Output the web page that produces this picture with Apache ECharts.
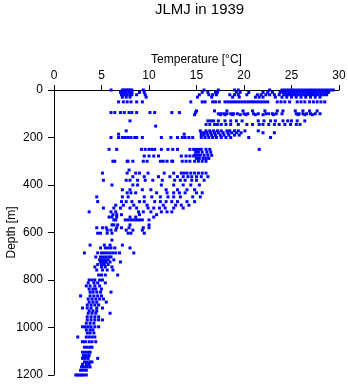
<!DOCTYPE html>
<html>
<head>
<meta charset="utf-8">
<script src="https://cdn.jsdelivr.net/npm/echarts@6/dist/echarts.min.js"></script>
<style>
html, body { margin: 0; padding: 0; background: #fff; }
#chart { width: 348px; height: 384px; }
</style>
</head>
<body>
<div id="chart"></div>
<script>
// depth levels [m] and the temperatures [°C] read at each one
var depths = [0, 10, 20, 30, 50, 88, 95, 100, 104, 130, 145, 152, 172, 180, 186, 190, 200, 250, 262, 275, 278, 288, 300, 337, 350, 365, 380, 400, 420, 433, 450, 470, 485, 497, 513, 525, 535, 547, 568, 580, 590, 603, 632, 653, 665, 686, 703, 715, 724, 735, 745, 758, 779, 800, 812, 825, 838, 851, 867, 880, 893, 905, 918, 930, 940, 955, 968, 982, 997, 1010, 1023, 1040, 1060, 1083, 1104, 1118, 1130, 1145, 1155, 1166, 1180, 1200]

var temps = [
	[6.0, 7.2, 7.4, 7.6, 7.8, 8.0, 8.2, 9.4, 15.8, 17.3, 19.0, 19.4, 22.7, 24.0, 24.3, 24.6, 24.9, 25.2, 25.5, 25.8, 26.1, 26.4, 26.7, 27.0, 27.3, 27.6, 27.9, 28.2, 28.5, 28.8, 29.1, 29.4],
	[7.0, 7.3, 7.6, 7.9, 8.2, 9.0, 9.5, 15.6, 16.2, 17.0, 17.2, 19.2, 19.6, 20.5, 22.0, 22.5, 23.0, 23.8, 24.1, 24.4, 24.7, 25.0, 25.3, 25.6, 25.9, 26.2, 26.5, 26.8, 27.1, 27.4, 27.7, 28.0, 28.3, 28.6, 28.9],
	[7.1, 7.4, 7.7, 8.0, 8.2, 8.7, 9.6, 15.3, 16.3, 16.7, 17.1, 18.5, 19.0, 19.4, 20.3, 21.4, 21.8, 22.3, 22.7, 23.2, 23.7, 24.2, 24.5, 24.8, 25.1, 25.4, 25.7, 26.0, 26.3, 26.6, 26.9, 27.2, 27.5, 27.8, 28.1, 28.4, 28.7],
	[7.2, 7.6, 8.0, 9.7, 15.1, 16.6, 18.8, 19.5, 21.2, 21.6, 22.0, 23.3, 24.0, 24.5, 25.0, 25.5, 26.0, 26.5, 27.0, 27.5, 28.0],
	[6.8, 7.3, 7.7, 8.1, 8.7, 9.3, 14.4, 15.6, 15.9, 16.7, 17.0, 17.4, 18.0, 18.3, 18.6, 18.9, 19.2, 19.5, 19.8, 20.1, 20.4, 20.7, 21.0, 21.3, 21.6, 21.9, 22.2, 22.5, 23.5, 23.9, 24.3, 24.8, 25.6, 26.0, 26.4, 26.9, 27.3, 27.7, 28.1, 28.5],
	[15.0, 16.9, 18.2, 19.9, 20.9, 22.2, 23.5, 24.1, 25.4, 26.2, 26.9, 27.7],
	[6.0, 6.4, 7.0, 7.4, 7.9, 8.2, 8.7, 10.1, 10.6, 12.4, 13.2, 14.9],
	[17.3, 17.6, 17.9, 18.2, 18.6, 18.9, 19.3, 20.0, 20.4, 21.0, 21.5, 22.3, 22.6, 23.0, 23.4, 24.0, 25.5, 25.8, 26.2, 26.6, 27.0, 27.5, 28.0],
	[14.8, 17.5, 18.0, 18.8, 19.6, 20.2, 21.2, 22.0, 23.1, 25.7, 26.4, 27.2],
	[8.0, 16.2, 16.5, 16.8, 17.3, 18.0, 18.6, 19.2, 19.8, 21.5, 22.1, 22.8, 23.3, 24.1, 24.6, 25.0, 25.6, 26.4],
	[16.0, 16.4, 16.9, 17.2, 17.6, 18.1, 18.6, 19.4, 20.3, 20.9, 21.6, 22.0, 22.6, 23.2, 23.7, 24.3, 24.9, 25.5, 25.9],
	[10.7],
	[7.6, 15.4, 16.0, 16.4, 16.8, 17.2, 17.6, 18.2, 18.5, 19.0, 19.4, 20.1, 21.5],
	[15.5, 15.8, 16.1, 16.5, 16.9, 17.3, 17.8, 18.3, 18.7, 19.2, 19.7, 22.0, 23.2],
	[6.8, 13.7],
	[15.5, 15.8, 16.2, 16.6, 17.0, 17.5, 17.9, 18.4, 19.0, 19.5],
	[6.0, 6.8, 7.2, 7.5, 7.8, 8.1, 8.5, 8.7, 9.3, 11.3, 12.3, 13.0, 13.5, 13.8, 14.2, 14.6, 15.5, 15.9, 16.3, 16.7, 17.1, 17.6, 18.1, 18.6, 20.5, 22.8],
	[5.8, 6.6, 9.2, 9.6, 10.0, 10.3, 10.6, 11.3, 12.0, 12.5, 13.0, 14.3, 14.7, 15.0, 15.3, 15.5, 16.0, 16.4, 21.6],
	[14.9, 15.2, 15.6, 16.1, 16.5],
	[14.8, 15.1, 15.4, 15.8, 16.2, 16.6],
	[9.5, 10.0, 10.5, 11.0, 13.4, 13.9, 14.3, 14.7],
	[15.0, 15.3, 15.7, 16.0, 16.3],
	[6.2, 6.4, 7.7, 7.8, 8.3, 9.4, 9.8, 11.2, 11.5, 11.9, 12.4, 12.5, 13.5, 13.9, 14.3, 14.8, 15.2, 15.6, 16.0],
	[7.9],
	[5.1, 7.7, 8.6, 9.0, 9.9, 11.6, 12.6, 13.4, 13.7, 14.0, 14.4, 14.8, 15.2, 15.6, 16.0],
	[8.3, 9.5, 11.0, 12.2, 13.0, 13.6, 14.1, 14.5, 15.0, 15.5, 16.2],
	[5.2, 7.6, 8.0, 8.8, 9.6, 10.4, 11.4, 12.7, 13.3, 13.8, 14.5, 15.0, 15.8],
	[6.1, 8.3, 8.8, 11.3, 12.6, 13.6, 14.4, 15.3],
	[7.2, 8.0, 9.3, 10.2, 11.8, 13.0, 14.0, 14.8],
	[7.7, 8.1, 8.6, 10.8, 11.9, 12.6, 13.2, 13.8, 15.0, 15.6],
	[4.5, 7.2, 7.8, 9.5, 10.3, 11.2, 12.0, 12.6, 13.3, 14.6, 15.4],
	[4.6, 7.1, 7.6, 8.2, 9.0, 9.5, 10.6, 11.2, 11.8, 12.4, 13.0, 14.0, 14.8],
	[6.5, 7.3, 8.4, 9.8, 11.5, 12.8, 13.4, 14.2],
	[5.2, 6.3, 7.0, 8.0, 8.7, 9.9, 10.5, 11.1, 11.7, 12.6, 13.6],
	[3.7, 6.0, 6.5, 8.9, 9.4, 10.2, 11.3, 11.9, 12.4],
	[6.2, 6.6, 7.1, 9.0, 10.8],
	[5.8, 6.1, 6.6, 8.0, 8.6, 10.5],
	[6.3, 6.5, 7.5, 7.8, 8.1, 8.4, 8.7, 9.0, 9.3, 10.0],
	[6.1, 6.3, 6.7, 8.0, 10.0],
	[4.5, 5.1, 5.5, 6.6, 7.1, 7.9, 9.4, 10.0],
	[5.6, 6.0, 6.5, 7.6, 8.3, 9.3],
	[4.6, 4.9, 5.6, 6.1, 7.8, 8.1, 9.5],
	[6.1],
	[3.8, 5.3, 5.9, 7.2],
	[4.9, 5.4, 5.7, 6.0, 6.4, 8.0],
	[3.2, 4.6, 5.0, 5.3, 5.6, 5.9, 6.2, 6.5, 6.9, 8.4],
	[4.4, 4.9, 5.2, 5.5, 5.8, 6.0],
	[4.8, 5.1, 5.4, 5.7, 6.3],
	[4.9, 5.2, 5.5, 5.9, 7.0],
	[4.6, 5.0, 5.3, 5.7],
	[4.3, 5.0, 5.4, 6.1],
	[4.5, 5.1, 5.6, 6.2],
	[4.7, 5.0, 5.4, 6.7],
	[3.7, 4.0, 4.3, 4.8, 5.1],
	[3.6, 4.2, 4.6, 5.4],
	[3.4, 3.8, 4.3, 4.8],
	[3.7, 4.1, 4.4, 5.0],
	[3.8, 4.1, 4.5, 4.9, 6.0],
	[2.8, 3.8, 4.2, 4.6, 5.0],
	[3.6, 4.0, 4.4, 4.8, 5.2],
	[3.7, 4.1, 4.5, 5.5],
	[3.5, 3.9, 4.3, 4.7],
	[3.0, 3.5, 3.9, 4.5, 5.1],
	[3.7, 4.1, 4.5],
	[3.6, 4.0, 4.4, 5.9],
	[3.5, 3.9, 4.3, 4.7],
	[3.5, 3.9, 4.3, 4.7, 5.1],
	[3.4, 3.8, 4.2],
	[3.0, 3.3, 3.6, 3.9, 4.3, 4.7],
	[3.4, 3.8, 4.1],
	[3.5, 3.8, 4.2],
	[2.5, 3.4, 3.7, 4.0, 4.3],
	[3.0, 3.3, 3.7, 4.0, 4.4],
	[3.2, 3.5, 3.8, 4.0],
	[3.0, 3.3, 3.6, 3.8],
	[3.1, 3.4, 3.7],
	[3.0, 3.3, 3.6, 4.6],
	[3.2, 3.5, 3.8, 4.0],
	[3.0, 3.4, 3.7],
	[2.9, 3.2, 3.5, 3.8],
	[2.8, 3.1, 3.4],
	[2.3, 2.5, 2.7, 2.9, 3.1, 3.4]
]

var tempTicks = [0, 5, 10, 15, 20, 25, 30]
var depthTicks = [0, 200, 400, 600, 800, 1000, 1200]

var points = []
for (var i = 0; i < depths.length; i++) {
	for (var j = 0; j < temps[i].length; j++) {
		points.push([temps[i][j], depths[i]])
	}
}

var chart = echarts.init(document.getElementById('chart'), null, { renderer: 'canvas' })
var font = 'Liberation Sans, Arial, sans-serif'

var option = {
	animation: false,
	backgroundColor: '#fff',
	textStyle: { fontFamily: font },
	title: {
		text: 'JLMJ in 1939',
		left: 150,
		top: -3,
		textStyle: { fontFamily: font, fontSize: 15, fontWeight: 'normal', color: '#000' }
	},
	grid: { left: 54, right: 9, top: 90, bottom: 9, containLabel: false, outerBoundsMode: 'none' },
	xAxis: {
		type: 'value',
		position: 'top',
		min: tempTicks[0],
		max: tempTicks[tempTicks.length - 1],
		interval: 5,
		name: 'Temperature [°C]',
		nameLocation: 'middle',
		nameGap: 24,
		nameMoveOverlap: false,
		nameTextStyle: { fontFamily: font, fontSize: 12, color: '#000' },
		axisLine: { show: true, lineStyle: { color: '#000', width: 1 } },
		axisTick: { show: true, length: 5, lineStyle: { color: '#000' } },
		axisLabel: { fontFamily: font, fontSize: 12, color: '#000', margin: 8 },
		splitLine: { show: false }
	},
	yAxis: {
		type: 'value',
		inverse: true,
		min: depthTicks[0],
		max: depthTicks[depthTicks.length - 1],
		interval: 200,
		name: 'Depth [m]',
		nameLocation: 'middle',
		nameGap: 36,
		nameMoveOverlap: false,
		nameTextStyle: { fontFamily: font, fontSize: 12, color: '#000' },
		axisLine: { show: true, lineStyle: { color: '#000', width: 1 } },
		axisTick: { show: true, length: 6, lineStyle: { color: '#000' } },
		axisLabel: {
			fontFamily: font, fontSize: 12, color: '#000', margin: 11,
			formatter: function (v) { return String(v) }
		},
		splitLine: { show: false }
	},
	series: [{
		type: 'scatter',
		data: points,
		symbol: 'rect',
		symbolSize: 3,
		itemStyle: { color: '#0000ff', opacity: 1 },
		emphasis: { disabled: true }
	}]
}
chart.setOption(option)
</script>
</body>
</html>
